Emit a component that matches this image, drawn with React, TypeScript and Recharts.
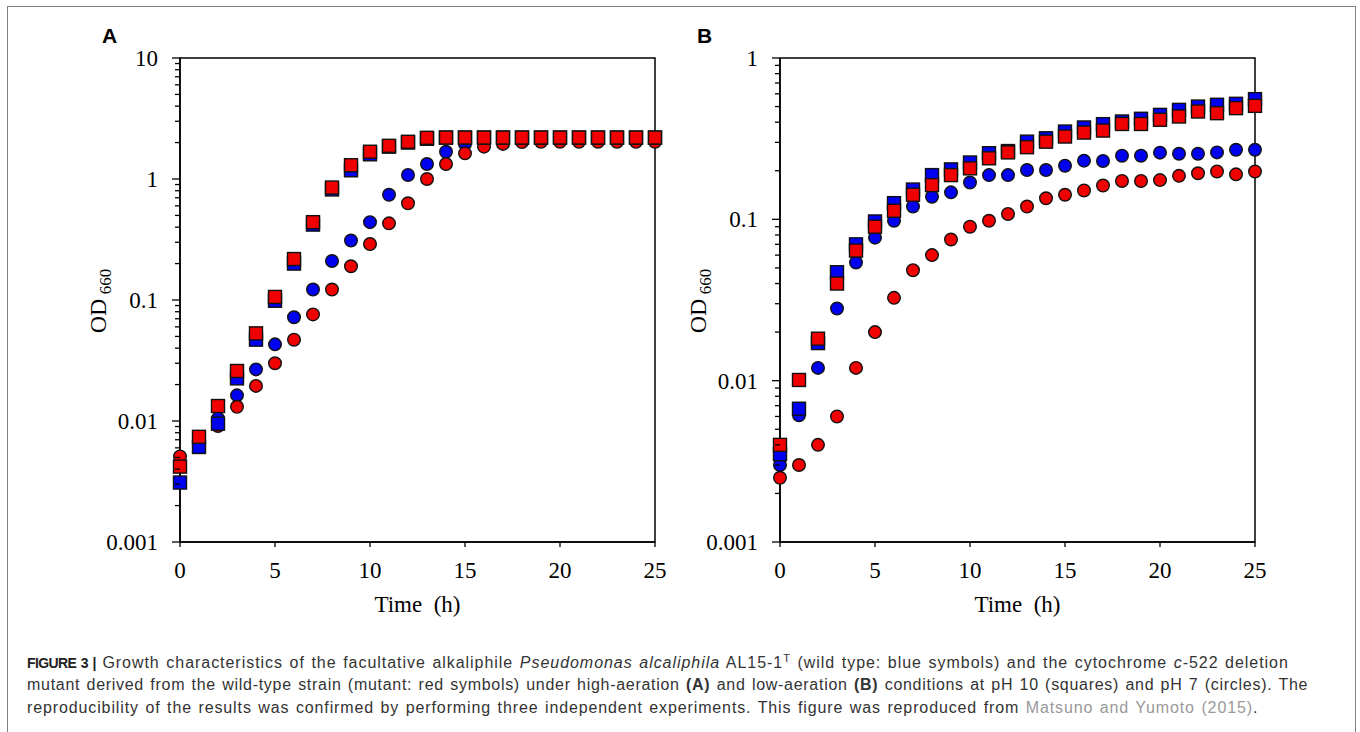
import React from 'react';
import { ScatterChart, Scatter, XAxis, YAxis, ReferenceArea } from 'recharts';

// Time points (h)
const hours = [0, 1, 2, 3, 4, 5, 6, 7, 8, 9, 10, 11, 12, 13, 14, 15, 16, 17, 18, 19, 20, 21, 22, 23, 24, 25];

// Panel A: high aeration
const aWtPh10 = [0.0031, 0.0061, 0.0095, 0.0225, 0.047, 0.0986, 0.2, 0.42, 0.82, 1.18, 1.6, 1.85, 2.0, 2.15, 2.2, 2.2, 2.2, 2.2, 2.2, 2.2, 2.2, 2.2, 2.2, 2.2, 2.2, 2.2];
const aMutPh10 = [0.0042, 0.0074, 0.0133, 0.0259, 0.053, 0.106, 0.218, 0.44, 0.85, 1.3, 1.68, 1.88, 2.03, 2.19, 2.2, 2.2, 2.2, 2.2, 2.2, 2.2, 2.2, 2.2, 2.2, 2.2, 2.2, 2.2];
const aWtPh7 = [0.0045, 0.0065, 0.0105, 0.0163, 0.0267, 0.043, 0.072, 0.122, 0.21, 0.31, 0.44, 0.74, 1.08, 1.33, 1.68, 1.95, 2.07, 2.08, 2.08, 2.08, 2.08, 2.08, 2.08, 2.08, 2.08, 2.08];
const aMutPh7 = [0.0051, 0.0068, 0.0091, 0.0131, 0.0195, 0.03, 0.047, 0.076, 0.122, 0.19, 0.29, 0.43, 0.63, 1.0, 1.33, 1.63, 1.85, 1.95, 2.02, 2.03, 2.03, 2.03, 2.03, 2.03, 2.03, 2.03];

// Panel B: low aeration
const bWtPh10 = [0.0035, 0.0067, 0.0171, 0.047, 0.07, 0.097, 0.126, 0.153, 0.188, 0.204, 0.225, 0.257, 0.265, 0.303, 0.318, 0.35, 0.371, 0.389, 0.404, 0.42, 0.444, 0.477, 0.5, 0.513, 0.52, 0.556];
const bMutPh10 = [0.004, 0.0101, 0.0182, 0.04, 0.064, 0.09, 0.113, 0.142, 0.163, 0.188, 0.207, 0.239, 0.26, 0.28, 0.303, 0.326, 0.345, 0.355, 0.39, 0.39, 0.414, 0.434, 0.466, 0.455, 0.489, 0.505];
const bWtPh7 = [0.003, 0.0061, 0.012, 0.028, 0.054, 0.077, 0.098, 0.12, 0.138, 0.147, 0.169, 0.188, 0.188, 0.202, 0.202, 0.215, 0.231, 0.23, 0.248, 0.248, 0.259, 0.255, 0.255, 0.26, 0.27, 0.27];
const bMutPh7 = [0.0025, 0.003, 0.004, 0.006, 0.012, 0.02, 0.0326, 0.0484, 0.06, 0.075, 0.09, 0.098, 0.108, 0.12, 0.135, 0.142, 0.151, 0.162, 0.173, 0.173, 0.175, 0.186, 0.193, 0.198, 0.19, 0.198];

const xTicks = [0, 5, 10, 15, 20, 25];
const majorTicksA = [0.001, 0.01, 0.1, 1, 10];
const majorTicksB = [0.001, 0.01, 0.1, 1];
const minorMultipliers = [2, 3, 4, 5, 6, 7, 8, 9];

const BLUE = '#0000f0';
const RED = '#f00000';
const SERIF = '"Liberation Serif", "Times New Roman", serif';

function buildTicks(majors: number[]) {
  const out: number[] = [];
  majors.forEach((m, i) => {
    out.push(m);
    if (i < majors.length - 1) minorMultipliers.forEach((k) => out.push(+(m * k).toPrecision(6)));
  });
  return out;
}

const toPoints = (vals: number[]) => hours.map((h, i) => ({ x: h, y: vals[i] }));

const squareShape = (color: string) => (p: any) => (
  <rect x={p.cx - 6.5} y={p.cy - 6.5} width={13} height={13} fill={color} stroke="#111" strokeWidth={1.4} />
);
const circleShape = (color: string) => (p: any) => (
  <ellipse cx={p.cx} cy={p.cy} rx={6.3} ry={6.3} fill={color} stroke="#111" strokeWidth={1.4} />
);

const makeYTick = (majors: number[]) => (props: any) => {
  const { x, y, payload } = props;
  const v = payload.value;
  const major = majors.some((m) => Math.abs(m - v) / m < 1e-6);
  return (
    <g>
      <line x1={x - (major ? 8 : 5)} x2={x} y1={y} y2={y} stroke="#000" strokeWidth={1.3} />
      {major && (
        <text x={x - 22} y={y} dy="0.35em" textAnchor="end" fontFamily={SERIF} fontSize={23} fill="#000">
          {String(v)}
        </text>
      )}
    </g>
  );
};

const XTick = (props: any) => {
  const { x, y, payload } = props;
  return (
    <text x={x} y={y + 31} textAnchor="middle" fontFamily={SERIF} fontSize={23} fill="#000">
      {payload.value}
    </text>
  );
};

type PanelProps = {
  left: number;
  marginLeft: number;
  marginRight: number;
  majors: number[];
  wt10: number[];
  mut10: number[];
  wt7: number[];
  mut7: number[];
};

function Panel({ left, marginLeft, marginRight, majors, wt10, mut10, wt7, mut7 }: PanelProps) {
  const domain: [number, number] = [majors[0], majors[majors.length - 1]];
  return (
    <div style={{ position: 'absolute', left, top: 0 }}>
      <ScatterChart width={680} height={640} margin={{ top: 58, right: marginRight, bottom: 38, left: marginLeft }}>
        <XAxis
          dataKey="x"
          type="number"
          domain={[0, 25]}
          ticks={xTicks}
          interval={0}
          height={60}
          tickSize={5}
          tickMargin={0}
          axisLine={{ stroke: '#000', strokeWidth: 1.5 }}
          tickLine={{ stroke: '#000', strokeWidth: 1.3 }}
          tick={<XTick />}
        />
        <YAxis
          dataKey="y"
          type="number"
          scale="log"
          domain={domain}
          ticks={buildTicks(majors)}
          interval={0}
          width={80}
          tickSize={0}
          tickMargin={0}
          axisLine={{ stroke: '#000', strokeWidth: 1.5 }}
          tickLine={false}
          tick={makeYTick(majors)}
        />
        <ReferenceArea x1={0} x2={25} y1={domain[0]} y2={domain[1]} fill="none" stroke="#000" strokeWidth={1.5} fillOpacity={0} />
        <Scatter data={toPoints(wt7)} shape={circleShape(BLUE)} isAnimationActive={false} />
        <Scatter data={toPoints(mut7)} shape={circleShape(RED)} isAnimationActive={false} />
        <Scatter data={toPoints(wt10)} shape={squareShape(BLUE)} isAnimationActive={false} />
        <Scatter data={toPoints(mut10)} shape={squareShape(RED)} isAnimationActive={false} />
      </ScatterChart>
    </div>
  );
}

function AxisLabels({ cx, plotCenterX }: { cx: number; plotCenterX: number }) {
  return (
    <>
      <text
        x={cx}
        y={301}
        transform={`rotate(-90 ${cx} 301)`}
        textAnchor="middle"
        fontFamily={SERIF}
        fontSize={24}
        fill="#000"
      >
        OD
        <tspan fontSize={17} dy={5}>
          {'\u00a0660'}
        </tspan>
      </text>
      <text x={plotCenterX} y={612} textAnchor="middle" fontFamily={SERIF} fontSize={23} fill="#000">
        {'Time\u00a0 (h)'}
      </text>
    </>
  );
}

export default function App() {
  return (
    <div style={{ position: 'absolute', left: 0, top: 0, width: 1360, height: 732, overflow: 'hidden', background: '#fff' }}>
      <div
        style={{
          position: 'absolute',
          left: 7,
          top: 6,
          width: 1349,
          height: 800,
          border: '1px solid #808080',
          boxSizing: 'border-box',
        }}
      />
      <Panel left={0} marginLeft={100} marginRight={25} majors={majorTicksA} wt10={aWtPh10} mut10={aMutPh10} wt7={aWtPh7} mut7={aMutPh7} />
      <Panel left={680} marginLeft={20} marginRight={105} majors={majorTicksB} wt10={bWtPh10} mut10={bMutPh10} wt7={bWtPh7} mut7={bMutPh7} />
      <svg width={1360} height={732} style={{ position: 'absolute', left: 0, top: 0, pointerEvents: 'none' }}>
        <text x={102} y={43} fontFamily='"Liberation Sans", Arial, sans-serif' fontWeight="bold" fontSize={21} fill="#000">
          A
        </text>
        <text x={697} y={43} fontFamily='"Liberation Sans", Arial, sans-serif' fontWeight="bold" fontSize={21} fill="#000">
          B
        </text>
        <AxisLabels cx={105.5} plotCenterX={417.5} />
        <AxisLabels cx={705.5} plotCenterX={1017.5} />
      </svg>
      <div
        style={{
          position: 'absolute',
          left: 27,
          top: 651.5,
          fontFamily: '"Liberation Sans", Arial, sans-serif',
          fontSize: 16,
          lineHeight: '22.5px',
          wordSpacing: '1.2px',
          color: '#333',
          whiteSpace: 'nowrap',
        }}
      >
        <div style={{ letterSpacing: '0.96px' }}>
          <b style={{ color: '#222', fontSize: 14, letterSpacing: '-0.6px' }}>FIGURE 3 |</b> Growth characteristics of the facultative alkaliphile{' '}
          <i>Pseudomonas alcaliphila</i> AL15-1<sup style={{ fontSize: 11, lineHeight: 0 }}>T</sup> (wild type: blue symbols) and the
          cytochrome <i>c</i>-522 deletion
        </div>
        <div style={{ letterSpacing: '0.71px' }}>
          mutant derived from the wild-type strain (mutant: red symbols) under high-aeration <b>(A)</b> and low-aeration <b>(B)</b>{' '}
          conditions at pH 10 (squares) and pH 7 (circles). The
        </div>
        <div style={{ letterSpacing: '0.88px' }}>
          reproducibility of the results was confirmed by performing three independent experiments. This figure was reproduced from{' '}
          <span style={{ color: '#999' }}>Matsuno and Yumoto (2015)</span>.
        </div>
      </div>
    </div>
  );
}
